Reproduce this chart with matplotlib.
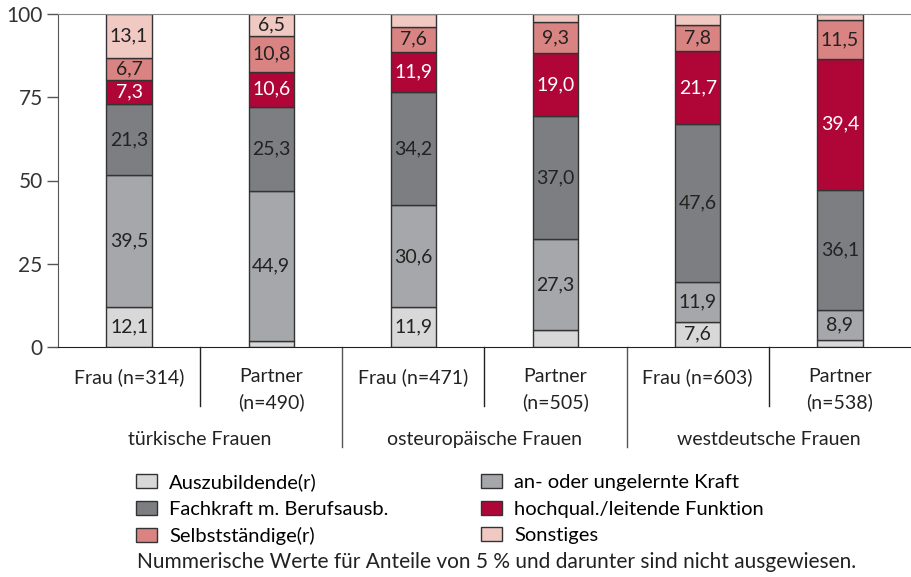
import numpy as np
import matplotlib.pyplot as plt
import matplotlib.patches as mpatches
from matplotlib import rc

rc('font', family='Lato', size=14)

# data (percent shares per bar, bottom to top)
bar_labels = ['Frau (n=314)', 'Partner\n(n=490)', 'Frau (n=471)', 'Partner\n(n=505)',
              'Frau (n=603)', 'Partner\n(n=538)']
groups = ['türkische Frauen', 'osteuropäische Frauen', 'westdeutsche Frauen']
categories = ['Auszubildende(r)', 'an- oder ungelernte Kraft', 'Fachkraft m. Berufsausb.',
              'hochqual./leitende Funktion', 'Selbstständige(r)', 'Sonstiges']
azubi      = [12.1, 1.9, 11.9, 5.0, 7.6, 2.2]
ungelernt  = [39.5, 44.9, 30.6, 27.3, 11.9, 8.9]
fachkraft  = [21.3, 25.3, 34.2, 37.0, 47.6, 36.1]
hochqual   = [7.3, 10.6, 11.9, 19.0, 21.7, 39.4]
selbst     = [6.7, 10.8, 7.6, 9.3, 7.8, 11.5]
sonstiges  = [13.1, 6.5, 3.8, 2.4, 3.4, 1.9]
series = [azubi, ungelernt, fachkraft, hochqual, selbst, sonstiges]

colors = ['#d8d8d9', '#a6a7aa', '#7d7e81', '#b00537', '#d98482', '#f0c9c2']
txtcol = ['#222222', '#222222', '#222222', 'white', '#222222', '#222222']
edge = '#333333'

fig = plt.figure(figsize=(9.11, 5.77), dpi=100)
ax = fig.add_axes([58/911, 1-347/577, 1-58/911, 333/577])

x = np.arange(len(bar_labels))
bottom = np.zeros(len(x))
for i, vals in enumerate(series):
    vals = np.array(vals)
    ax.bar(x, vals, 0.32, bottom=bottom, color=colors[i], edgecolor=edge, linewidth=1)
    for j in range(len(x)):
        if vals[j] > 5:
            ax.text(x[j], bottom[j] + vals[j]/2, ('%.1f' % vals[j]).replace('.', ','),
                    ha='center', va='center', color=txtcol[i], fontsize=14)
    bottom += vals

ax.set_xlim(-0.5, 5.5)
ax.set_ylim(0, 100)
ax.set_yticks([0, 25, 50, 75, 100])
ax.set_xticks([])
ax.tick_params(axis='y', length=8, width=1, color='#555555', labelcolor='#333333',
               labelsize=15, pad=3)
ax.spines['right'].set_visible(False)
ax.spines['top'].set_color('#888888')
ax.spines['left'].set_color('#555555')
ax.spines['bottom'].set_color('#222222')

tr = ax.get_xaxis_transform()
for j, lab in enumerate(bar_labels):
    lines = lab.split('\n')
    ax.text(x[j], -0.09, lines[0], transform=tr, ha='center', va='center', color='#222222')
    if len(lines) > 1:
        ax.text(x[j], -0.165, lines[1], transform=tr, ha='center', va='center', color='#222222')
for g, name in enumerate(groups):
    ax.text(2*g + 0.5, -0.279, name, transform=tr, ha='center', va='center', color='#222222')
for b in [0.5, 2.5, 4.5]:
    ax.plot([b, b], [0, -0.177], transform=tr, color='#222222', lw=1, clip_on=False)
for b in [1.5, 3.5]:
    ax.plot([b, b], [0, -0.30], transform=tr, color='#555555', lw=1, clip_on=False)

handles = [mpatches.Patch(facecolor=c, edgecolor=edge, linewidth=1) for c in colors]
order = [0, 2, 4, 1, 3, 5]
fig.legend([handles[k] for k in order], [categories[k] for k in order], ncol=2,
           loc='upper left', bbox_to_anchor=(136/911, 1-473/577), frameon=False,
           fontsize=14.5, handlelength=1.05, handleheight=0.7, handletextpad=0.6,
           columnspacing=4.6, labelspacing=0.48, borderaxespad=0, borderpad=0)
fig.text(137/911, 1-562/577, 'Nummerische Werte für Anteile von 5 % und darunter sind nicht ausgewiesen.',
         ha='left', va='center', color='#222222', fontsize=15)

fig.savefig('out.png', dpi=100)
